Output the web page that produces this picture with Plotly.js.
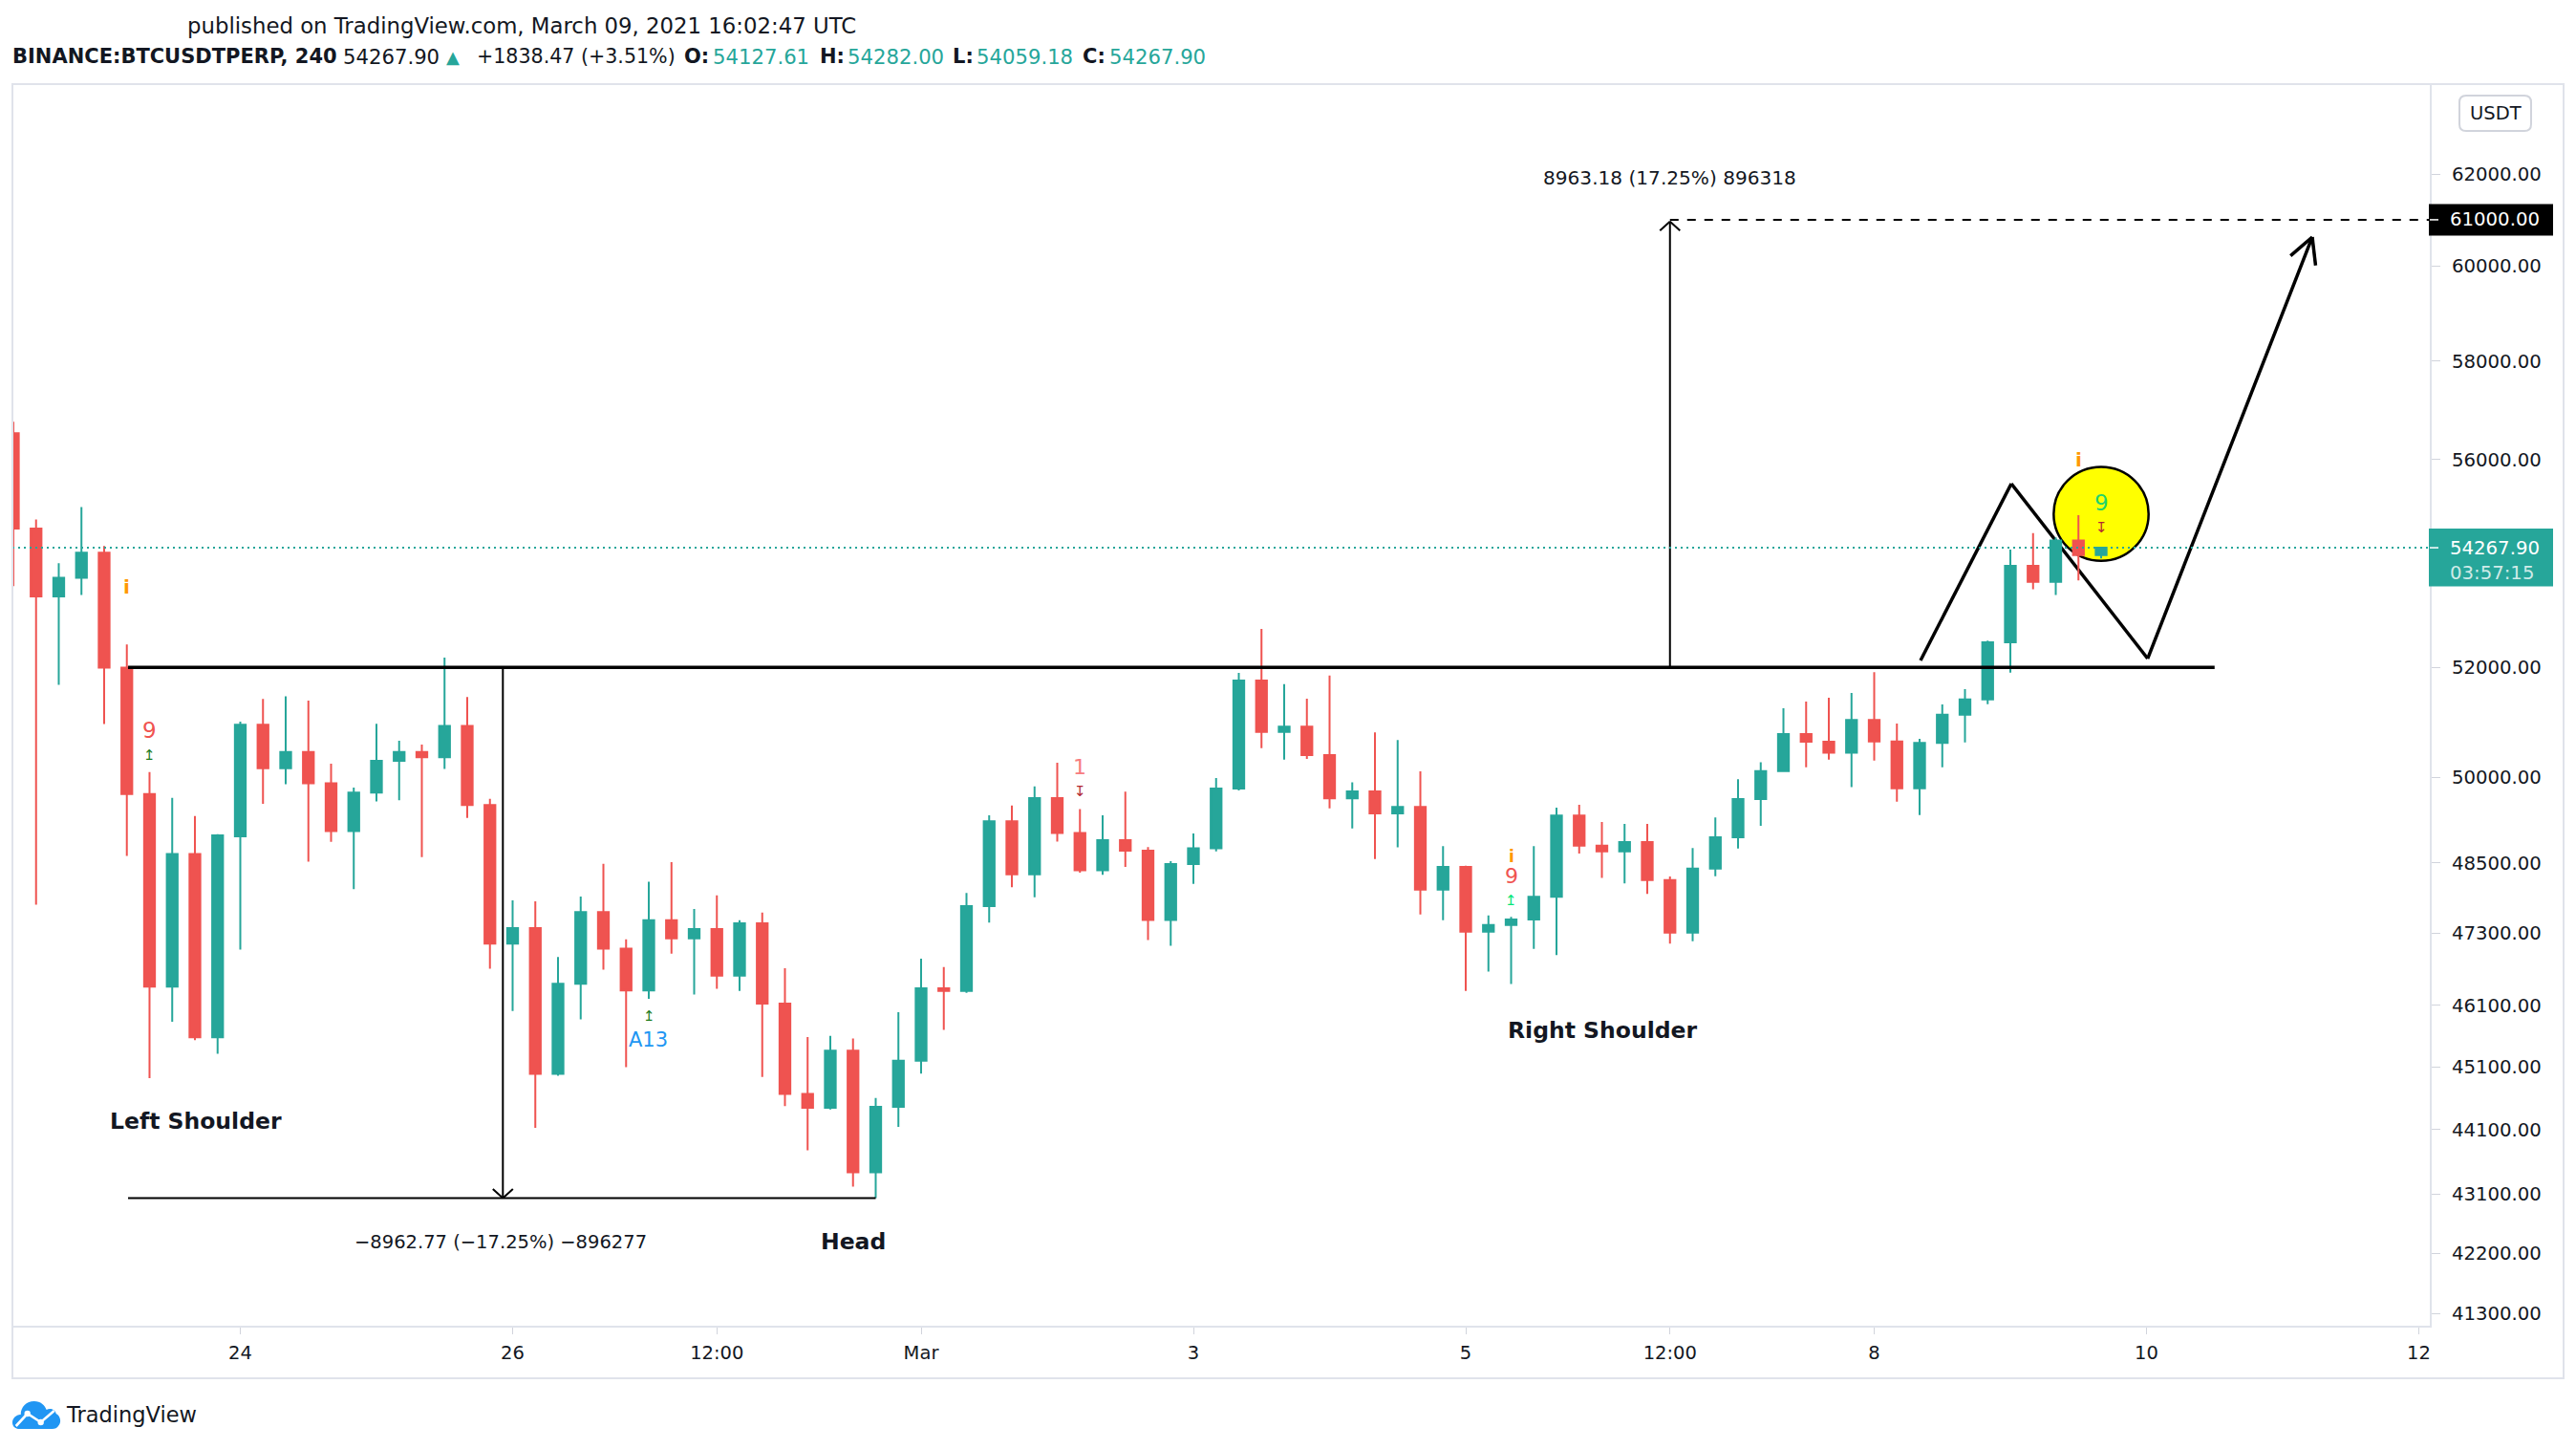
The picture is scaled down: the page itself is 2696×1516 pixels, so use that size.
<!DOCTYPE html>
<html><head><meta charset="utf-8">
<script src="https://cdn.plot.ly/plotly-3.0.1.min.js"></script>
<style>html,body{margin:0;padding:0;background:#fff;}#chart{width:2696px;height:1516px;}</style>
</head><body><div id="chart"></div>
<script>
// ---------------- DATA ----------------
const firstCandle = '2021-02-22 08:00';
const candleHours = 4;
const openP = [56530,54640,53333,53690,54172,51995,49707,46408,48653,45577,
  48960,50950,50164,50455,49897,49052,49732,50297,50455,50360,
  50925,49510,47124,47387,44985,46455,47658,47040,46343,47517,
  47214,47369,46590,47467,46125,44664,44443,45360,43434,44460,
  45196,46378,46335,47759,49225,48303,49632,49020,48371,48893,
  48712,47524,48480,48755,49802,51760,50820,50915,50400,49630,
  49750,49365,49478,48040,48430,47325,47436,47533,47917,49325,
  48800,48700,48860,48205,47310,48400,48945,49617,50115,50780,
  50640,50445,51035,50645,49806,50620,51130,51410,52467,53920,
  53610,54410,54127.61];
const highP = [56760,54817,53970,55060,54300,52430,50096,49637,49318,49000,
  51005,51420,51470,51390,50245,49820,50968,50660,50590,52185,
  51455,49620,47857,47840,46900,47923,48485,47195,48175,48513,
  47710,47940,47520,47647,46712,45581,45600,45558,44602,45986,
  46870,46730,47983,49328,49504,49840,50263,49440,49328,49748,
  48775,48530,49013,49990,51900,52720,51690,51425,51850,49915,
  50810,50670,50110,48790,48450,47598,47575,48790,49465,49515,
  49212,49180,49180,48265,48757,49290,49970,50270,51250,51370,
  51440,51530,51915,50970,50695,51320,51600,52500,54230,54550,
  54470,54900,54282.00];
const lowP = [53530,47783,51680,53360,50960,48620,44917,45830,45530,45308,
  47024,49534,49880,48520,48866,48050,49576,49594,48600,50150,
  49285,46705,46005,44129,44955,45870,46690,45094,46207,46956,
  46275,46370,46335,44937,44472,43775,44419,43214,43037,44142,
  44990,45695,46305,47480,48082,47908,48868,48333,48295,48430,
  47183,47087,48140,48700,49770,50525,50318,50330,49452,49100,
  48568,48770,47618,47520,46335,46655,46450,47036,46930,48660,
  48240,48145,47965,47125,47165,48270,48750,49145,50110,50180,
  50318,49830,50300,49570,49335,50180,50630,51325,51905,53470,
  53360,53640,54059.18];
const closeP = [54640,53333,53690,54172,51995,49707,46408,48653,45577,48978,
  50950,50164,50455,49897,49052,49732,50297,50455,50360,50925,
  49510,47124,47387,44985,46455,47658,47040,46343,47517,47214,
  47369,46590,47467,46125,44664,44443,45360,43434,44460,45196,
  46378,46335,47759,49225,48303,49632,49020,48371,48893,48712,
  47524,48480,48755,49802,51760,50820,50915,50400,49630,49750,
  49365,49478,48040,48430,47325,47436,47533,47917,49325,48800,
  48700,48860,48205,47310,48400,48945,49617,50115,50780,50640,
  50445,51035,50645,49806,50620,51130,51410,52467,53920,53610,
  54410,54127.61,54267.90];

const xTickVals = ['2021-02-24','2021-02-26','2021-02-27 12:00','2021-03-01','2021-03-03','2021-03-05','2021-03-06 12:00','2021-03-08','2021-03-10','2021-03-12'];
const xTickText = ['24','26','12:00','Mar','3','5','12:00','8','10','12'];
const yTickVals = [41300,42200,43100,44100,45100,46100,47300,48500,50000,52000,56000,58000,60000,62000];

const necklinePrice = 52000;
const headPrice = 43037.23;
const targetPrice = 60963.18;
const markedPrice = 61000;
const lastPrice = 54267.90;

const necklineTimes = ['2021-02-23 04:13','2021-03-10 12:00'];
const headLineTimes = ['2021-02-23 04:13','2021-02-28 16:00'];
const downMeasureTime = '2021-02-25 22:17';
const upMeasureTime = '2021-03-06 12:00';
const pathTimes = ['2021-03-08 08:10','2021-03-09 00:10','2021-03-10 00:12','2021-03-11 05:13'];
const pathPrices = [52130,55522,52165,60625];

const labelTexts = ['Left Shoulder','Head','Right Shoulder'];
const labelTimes = ['2021-02-23 16:15','2021-02-28 12:06','2021-03-06 00:05'];
const labelPrices = [44240,42370,45693];

// ---------------- GEOMETRY ----------------
const W=2696,H=1516,ML=13,MR=153,MT=88,MB=129, PW=W-ML-MR, PH=H-MT-MB;
const X_RANGE=['2021-02-22 07:50','2021-03-12 01:56'];
const Y_RANGE=[41122,64023];
const lo=Math.log10(Y_RANGE[0]), hi=Math.log10(Y_RANGE[1]);
const toMs = s => Date.parse(s.replace(' ','T') + (s.length===10?'T00:00':'') + ':00Z');
const xMs0=toMs(X_RANGE[0]), xMs1=toMs(X_RANGE[1]);
const tPaper = s => (toMs(s)-xMs0)/(xMs1-xMs0);
const pPaper = p => (Math.log10(p)-lo)/(hi-lo);
const tPx = s => ML + tPaper(s)*PW;
const pPx = p => MT + (1-pPaper(p))*PH;
const PX = x => (x-ML)/PW;
const PY = y => (H-MB-y)/PH;

const FONT = 'DejaVu Sans, Verdana, sans-serif';
const DARK = '#131722', UP = '#26a69a', DOWN = '#ef5350';

const t0 = toMs(firstCandle);
const times = openP.map((_,i)=> new Date(t0 + i*candleHours*3600e3).toISOString().slice(0,16).replace('T',' '));

// ---------------- TRACE ----------------
const traces = [{
  type:'candlestick', x:times, open:openP, high:highP, low:lowP, close:closeP,
  increasing:{line:{color:UP,width:2}, fillcolor:UP},
  decreasing:{line:{color:DOWN,width:2}, fillcolor:DOWN},
  whiskerwidth:0, hoverinfo:'skip', showlegend:false
}];

// ---------------- SHAPES ----------------
const shapes = [];
const pxLine = (x0,y0,x1,y1,color,width,layer) => ({type:'line', xref:'paper', yref:'paper',
  x0:PX(x0), y0:PY(y0), x1:PX(x1), y1:PY(y1), line:{color:color,width:width}, layer:layer||'above'});
function wings(t, p, vecs, width, layer){
  const x=tPx(t), y=pPx(p);
  vecs.forEach(v=>shapes.push(pxLine(x,y,x+v[0],y+v[1],'#000',width,layer)));
}
// projected path (below candles)
for(let i=0;i<pathTimes.length-1;i++){
  shapes.push({type:'line', xref:'x', yref:'y', x0:pathTimes[i], y0:pathPrices[i], x1:pathTimes[i+1], y1:pathPrices[i+1], line:{color:'#000',width:3.5}, layer:'below'});
}
(function(){
  const n=pathTimes.length;
  const x1=tPx(pathTimes[n-1]), y1=pPx(pathPrices[n-1]);
  const x0=tPx(pathTimes[n-2]), y0=pPx(pathPrices[n-2]);
  let dx=x1-x0, dy=y1-y0; const L=Math.hypot(dx,dy); dx/=L; dy/=L;
  const bx=-dx, by=-dy, a=28*Math.PI/180, len=30;
  const r1=[ (bx*Math.cos(a)-by*Math.sin(a))*len, (bx*Math.sin(a)+by*Math.cos(a))*len ];
  const r2=[ (bx*Math.cos(-a)-by*Math.sin(-a))*len, (bx*Math.sin(-a)+by*Math.cos(-a))*len ];
  wings(pathTimes[n-1], pathPrices[n-1], [r1,r2], 3.5, 'below');
})();
// yellow circle
shapes.push({type:'circle', xref:'x', yref:'y', x0:'2021-03-09 07:38', x1:'2021-03-10 00:22', y0:54016, y1:55853,
  fillcolor:'#ffff00', line:{color:'#000',width:2.5}, layer:'below'});
// neckline, head line, measurements
shapes.push({type:'line', xref:'x', yref:'y', x0:necklineTimes[0], x1:necklineTimes[1], y0:necklinePrice, y1:necklinePrice, line:{color:'#000',width:3.5}});
shapes.push({type:'line', xref:'x', yref:'y', x0:headLineTimes[0], x1:headLineTimes[1], y0:headPrice, y1:headPrice, line:{color:'#000',width:2}});
shapes.push({type:'line', xref:'x', yref:'y', x0:downMeasureTime, x1:downMeasureTime, y0:necklinePrice, y1:headPrice, line:{color:'#000',width:2}});
wings(downMeasureTime, headPrice, [[-10.5,-9.5],[10.5,-9.5]], 2);
shapes.push({type:'line', xref:'x', yref:'y', x0:upMeasureTime, x1:upMeasureTime, y0:necklinePrice, y1:targetPrice, line:{color:'#000',width:2}});
wings(upMeasureTime, targetPrice, [[-10.5,9.5],[10.5,9.5]], 2);
shapes.push({type:'line', xref:'x', yref:'y', x0:upMeasureTime, x1:X_RANGE[1], y0:markedPrice, y1:markedPrice, line:{color:'#000',width:2,dash:'9px,9px'}});
// last price dotted line
shapes.push({type:'line', xref:'paper', yref:'y', x0:0, x1:1, y0:lastPrice, y1:lastPrice, line:{color:UP,width:2,dash:'2px,4px'}});
// frame
shapes.push({type:'rect', xref:'paper', yref:'paper', x0:0, x1:PX(2683), y0:PY(1442), y1:1, line:{color:'#e0e3eb',width:2}});
// price badges on the axis
const yc = pPx(lastPrice), y61 = pPx(markedPrice);
shapes.push({type:'rect', xref:'paper', yref:'paper', x0:PX(2542), x1:PX(2672), y0:PY(yc-20), y1:PY(yc+40.5), fillcolor:UP, line:{width:0}});
shapes.push(pxLine(2543,yc,2552,yc,'#ffffff',1.5));
shapes.push({type:'rect', xref:'paper', yref:'paper', x0:PX(2542), x1:PX(2672), y0:PY(y61-16.5), y1:PY(y61+16.5), fillcolor:'#000', line:{width:0}});
shapes.push(pxLine(2543,y61,2552,y61,'#ffffff',1.5));
// USDT button
(function(){
  const x0=2574,x1=2649,y0=100,y1=137,r=7;
  const P=(x,y)=>PX(x)+','+PY(y);
  const d='M'+P(x0+r,y0)+' L'+P(x1-r,y0)+' Q'+P(x1,y0)+' '+P(x1,y0+r)+' L'+P(x1,y1-r)+' Q'+P(x1,y1)+' '+P(x1-r,y1)+
    ' L'+P(x0+r,y1)+' Q'+P(x0,y1)+' '+P(x0,y1-r)+' L'+P(x0,y0+r)+' Q'+P(x0,y0)+' '+P(x0+r,y0)+' Z';
  shapes.push({type:'path', xref:'paper', yref:'paper', path:d, line:{color:'#d1d4dc',width:2}, fillcolor:'#ffffff'});
})();

// ---------------- ANNOTATIONS ----------------
const anns = [];
function dataText(text, t, p, size, color, bold, extra){
  anns.push(Object.assign({text: bold?'<b>'+text+'</b>':text, x:t, y:Math.log10(p), xref:'x', yref:'y', showarrow:false,
    xanchor:'center', yanchor:'middle', borderpad:0, font:{family:FONT,size:size,color:color}}, extra||{}));
}
function pxText(text, x, y, size, color, anchor){
  anns.push({text:text, x:PX(x), y:PY(y), xref:'paper', yref:'paper', showarrow:false, xanchor:anchor||'left', yanchor:'middle',
    borderpad:0, font:{family:FONT,size:size,color:color}});
}
labelTexts.forEach((s,i)=>dataText(s, labelTimes[i], labelPrices[i], 23.5, DARK, true));
dataText('8963.18 (17.25%) 896318', upMeasureTime, 61920, 20.1, DARK, false);
dataText('\u22128962.77 (\u221217.25%) \u2212896277', '2021-02-25 21:58', 42370, 19.5, DARK, false);
// TD sequential marks
dataText('i', '2021-02-23 04:00', 53515, 20, '#ff9800', true);
dataText('9', '2021-02-23 08:00', 50841, 23, '#f05350', false);
dataText('\u21A5', '2021-02-23 08:00', 50400, 15, '#1b7a1b', false);
dataText('\u21A5', '2021-02-27 00:00', 45926, 15, '#1b7a1b', false);
dataText('A13', '2021-02-26 23:50', 45527, 21, '#2196f3', false);
dataText('1', '2021-03-02 04:00', 50184, 22, '#f77c80', false);
dataText('\u21A7', '2021-03-02 04:00', 49748, 15, '#b22833', false);
dataText('i', '2021-03-05 08:00', 48620, 17, '#ff9800', true);
dataText('9', '2021-03-05 08:00', 48270, 22, '#f05350', false);
dataText('\u21A5', '2021-03-05 08:00', 47861, 15, '#00e676', false);
dataText('i', '2021-03-09 12:00', 55997, 20, '#ff9800', true);
dataText('9', '2021-03-09 16:00', 55145, 23, '#22d36b', false);
dataText('\u21A7', '2021-03-09 16:00', 54664, 15, '#b22833', false);

// header
pxText('published on TradingView.com, March 09, 2021 16:02:47 UTC', 195, 26.7, 22.8, DARK);
pxText('<b>BINANCE:BTCUSDTPERP, 240</b>', 12.4, 59.3, 21, DARK);
pxText('54267.90', 358.2, 59.3, 21.2, DARK);
pxText('\u25B2', 466, 59.3, 18, UP);
pxText('+1838.47 (+3.51%)', 497.5, 59.3, 20.6, DARK);
const ohlcLab = [['O:',714.8,'54127.61',744.6],['H:',856.6,'54282.00',885.6],['L:',995.9,'54059.18',1020.7],['C:',1131.9,'54267.90',1160]];
ohlcLab.forEach(o=>{ pxText('<b>'+o[0]+'</b>', o[1], 59.3, 21, DARK); pxText(o[2], o[3], 59.3, 21.2, UP); });

// axis badges text
pxText('54267.90', 2562.7, yc, 19.7, '#ffffff');
pxText('03:57:15', 2562.7, yc+26, 19.7, 'rgba(255,255,255,0.78)');
pxText('61000.00', 2562.7, y61, 19.7, '#ffffff');
pxText('USDT', 2611.5, 118.5, 19.5, DARK, 'center');
// logo text
pxText('TradingView', 68.3, 1480, 22.5, DARK);

const logoSvg = "<svg xmlns='http://www.w3.org/2000/svg' width='52' height='30' viewBox='0 0 52 30'>"+
 "<path fill='#2196f3' d='M9 30 C2 30 0 24 2 20 C4 16 8 15 10 15 C10 7 16 1 24 1 C31 1 35 5 37 10 C40 8 46 9 47 14 C51 16 53 22 50 26 C48 29 46 30 43 30 Z'/>"+
 "<polyline points='5,27 17,14 31,23 45,11' fill='none' stroke='#fff' stroke-width='2.6'/>"+
 "<circle cx='17' cy='14' r='3.2' fill='#fff'/><circle cx='31' cy='23' r='3.2' fill='#fff'/></svg>";

const layout = {
  width:W, height:H, autosize:false,
  margin:{l:ML, r:MR, t:MT, b:MB, pad:0},
  paper_bgcolor:'#ffffff', plot_bgcolor:'#ffffff',
  showlegend:false, boxgap:0.32,
  xaxis:{type:'date', range:X_RANGE, rangeslider:{visible:false}, showgrid:false, zeroline:false,
    showline:true, linecolor:'#e0e3eb', linewidth:2, ticks:'outside', ticklen:7, tickwidth:1, tickcolor:'#d1d4dc',
    tickmode:'array', tickvals:xTickVals, ticktext:xTickText, tickfont:{family:FONT,size:19.5,color:DARK},
    ticklabelstandoff:3, fixedrange:true},
  yaxis:{type:'log', range:[lo,hi], side:'right', showgrid:false, zeroline:false,
    showline:true, linecolor:'#e0e3eb', linewidth:2, ticks:'outside', ticklen:9, tickwidth:1, tickcolor:'#d1d4dc',
    tickmode:'array', tickvals:yTickVals, ticktext:yTickVals.map(v=>v.toFixed(2)), tickfont:{family:FONT,size:19.7,color:DARK},
    ticklabelstandoff:8, fixedrange:true},
  shapes:shapes,
  annotations:anns,
  images:[{source:'data:image/svg+xml;utf8,'+encodeURIComponent(logoSvg), xref:'paper', yref:'paper',
    x:PX(11.7), y:PY(1465), sizex:52/PW, sizey:30/PH, xanchor:'left', yanchor:'top', sizing:'stretch', layer:'above'}]
};
Plotly.newPlot('chart', traces, layout, {staticPlot:true, displayModeBar:false});
</script>
</body></html>
